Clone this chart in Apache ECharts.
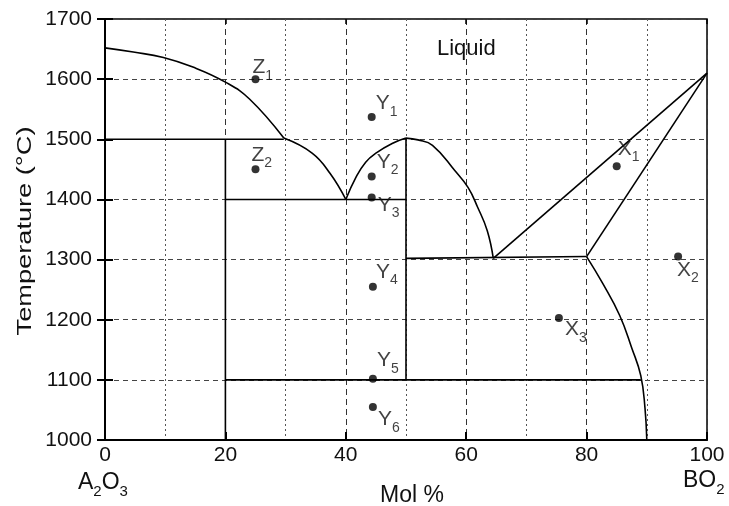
<!DOCTYPE html>
<html>
<head>
<meta charset="utf-8">
<script src="https://cdn.jsdelivr.net/npm/echarts@6/dist/echarts.min.js"></script>
<style>
  html, body { margin: 0; padding: 0; background: #fff; }
  #chart { width: 729px; height: 506px; }
</style>
</head>
<body>
<div id="chart"></div>
<script>
// Phase boundaries, [mol % BO2, temperature °C]
const liquidusLeft  = [[0, 1652], [4.7, 1645], [9.7, 1636], [14.6, 1620], [20, 1595], [24, 1567], [29.7, 1502]];
const liquidusKink  = [[29.7, 1502], [34.4, 1477], [37.4, 1443], [40, 1400]];
const domeLeft      = [[40, 1400], [41.7, 1437], [43.3, 1462], [45, 1477], [47.7, 1493], [50, 1502]];
const domeRight     = [[50, 1502], [52, 1499], [54.4, 1490], [58.1, 1448], [60.3, 1420], [61.9, 1387], [63.5, 1348], [64.5, 1302]];
const liquidusUpper = [[64.5, 1302], [100, 1610]];
const liquidusLower = [[80, 1305], [100, 1610]];
const solvus        = [[80, 1305], [82.7, 1260], [85.5, 1207], [87.5, 1153], [89, 1107], [89.7, 1053], [90, 1000]];

// Invariant lines
const line1500 = [[0, 1500], [29.7, 1500]];
const line20   = [[20, 1500], [20, 1000]];
const line1400 = [[20, 1400], [50, 1400]];
const line50   = [[50, 1502], [50, 1100]];
const line1300 = [[50, 1302], [80, 1305]];
const line1100 = [[20, 1100], [89, 1100]];

// Marked compositions
const pointLetter = ['Z', 'Z', 'Y', 'Y', 'Y', 'Y', 'Y', 'Y', 'X', 'X', 'X'];
const pointIndex  = ['1', '2', '1', '2', '3', '4', '5', '6', '1', '2', '3'];
const pointMol    = [25, 25, 44.3, 44.3, 44.3, 44.5, 44.5, 44.5, 85, 95.2, 75.4];
const pointTemp   = [1600, 1450, 1537, 1438, 1403, 1255, 1102, 1055, 1455, 1305, 1203];

// Axis ticks
const molTicks  = { min: 0, max: 100, step: 20 };
const tempTicks = { min: 1000, max: 1700, step: 100 };

// label placement (px from dot centre to top-left of the letter), styling only
const labelShift = [[-3, -18], [-4, -21], [4, -20], [5, -21], [6, 1], [3, -21], [4, -25], [5, 6], [1, -24], [-1, 7], [6, 5]];

const FONT = '"Liberation Sans", Arial, sans-serif';
const BLACK = '#000';
const INK = '#111';

const chart = echarts.init(document.getElementById('chart'), null, { renderer: 'canvas' });

const boundary = (name, data, smooth) => ({
  name,
  type: 'line',
  data,
  smooth: smooth ? 0.45 : false,
  showSymbol: false,
  symbol: 'none',
  silent: true,
  z: 5,
  lineStyle: { color: BLACK, width: 1.6 },
});

// letter + lowered index
const subRich = (big, small) => ({
  m: { fontFamily: FONT, fontSize: big, lineHeight: big + 1, color: INK, verticalAlign: 'top' },
  s: { fontFamily: FONT, fontSize: small, lineHeight: big + 5, color: INK, verticalAlign: 'bottom' },
});

const points = pointMol.map((x, i) => ({
  value: [x, pointTemp[i]],
  label: {
    show: true,
    position: [4 + labelShift[i][0], labelShift[i][1]],
    formatter: `{m|${pointLetter[i]}}{s|${pointIndex[i]}}`,
    rich: subRich(21, 14),
  },
}));

const graphicRich = (big, small) => ({
  m: { fontFamily: FONT, fontSize: big, lineHeight: big + 1, fill: INK, verticalAlign: 'top' },
  s: { fontFamily: FONT, fontSize: small, lineHeight: big + 5, fill: INK, verticalAlign: 'bottom' },
});

chart.setOption({
  backgroundColor: '#fff',
  animation: false,
  grid: { left: 105, right: 22, top: 19, bottom: 66, show: true, borderColor: BLACK, borderWidth: 1.5 },
  xAxis: [
    {
      type: 'value',
      min: molTicks.min, max: molTicks.max, interval: molTicks.step,
      axisLine: { lineStyle: { color: BLACK, width: 2 } },
      axisTick: { inside: true, length: 8, lineStyle: { color: BLACK, width: 2 } },
      axisLabel: { fontFamily: FONT, fontSize: 21, color: INK, margin: 5 },
      splitLine: { show: true, lineStyle: { color: '#333', width: 1, type: [6, 4] } },
      minorTick: { show: false, splitNumber: 2 },
      minorSplitLine: { show: true, lineStyle: { color: '#555', width: 1, type: [2, 3] } },
    },
    {
      type: 'value', position: 'top',
      min: molTicks.min, max: molTicks.max, interval: molTicks.step,
      axisLine: { show: false },
      axisTick: { inside: true, length: 5, lineStyle: { color: BLACK, width: 1.5 } },
      axisLabel: { show: false },
      splitLine: { show: false },
    },
  ],
  yAxis: [
    {
      type: 'value',
      min: tempTicks.min, max: tempTicks.max, interval: tempTicks.step,
      axisLine: { show: true, lineStyle: { color: BLACK, width: 2 } },
      axisTick: { show: true, inside: true, length: 8, lineStyle: { color: BLACK, width: 2 } },
      axisLabel: { fontFamily: FONT, fontSize: 21, color: INK, margin: 13, formatter: (v) => String(v) },
      splitLine: { show: true, lineStyle: { color: '#444', width: 1, type: [5, 4] } },
    },
    {
      type: 'value', position: 'right',
      min: tempTicks.min, max: tempTicks.max, interval: tempTicks.step,
      axisLine: { show: true, lineStyle: { color: BLACK, width: 2 } },
      axisTick: { show: true, inside: true, length: 8, lineStyle: { color: BLACK, width: 2 } },
      axisLabel: { show: false },
      splitLine: { show: false },
    },
  ],
  graphic: [
    {
      type: 'text', x: 25, y: 231, rotation: Math.PI / 2, scaleX: 1.36,
      style: { text: 'Temperature (°C)', font: `20px ${FONT}`, fill: INK, align: 'center', verticalAlign: 'middle' },
    },
    {
      type: 'text', left: 437, top: 38,
      style: { text: 'Liquid', font: `22px ${FONT}`, fill: INK },
    },
    {
      type: 'text', left: 380, top: 484,
      style: { text: 'Mol %', font: `23px ${FONT}`, fill: INK },
    },
    {
      type: 'text', left: 78, top: 471,
      style: { text: '{m|A}{s|2}{m|O}{s|3}', rich: graphicRich(23, 15) },
    },
    {
      type: 'text', left: 683, top: 469,
      style: { text: '{m|BO}{s|2}', rich: graphicRich(23, 15) },
    },
  ],
  series: [
    boundary('liquidusLeft', liquidusLeft, true),
    boundary('liquidusKink', liquidusKink, true),
    boundary('domeLeft', domeLeft, true),
    boundary('domeRight', domeRight, true),
    boundary('liquidusUpper', liquidusUpper, false),
    boundary('liquidusLower', liquidusLower, false),
    boundary('solvus', solvus, true),
    boundary('line1500', line1500, false),
    boundary('line20', line20, false),
    boundary('line1400', line1400, false),
    boundary('line50', line50, false),
    boundary('line1300', line1300, false),
    boundary('line1100', line1100, false),
    {
      name: 'points',
      type: 'scatter',
      symbol: 'circle',
      symbolSize: 8,
      z: 6,
      itemStyle: { color: BLACK },
      data: points,
    },
  ],
});
</script>
</body>
</html>
